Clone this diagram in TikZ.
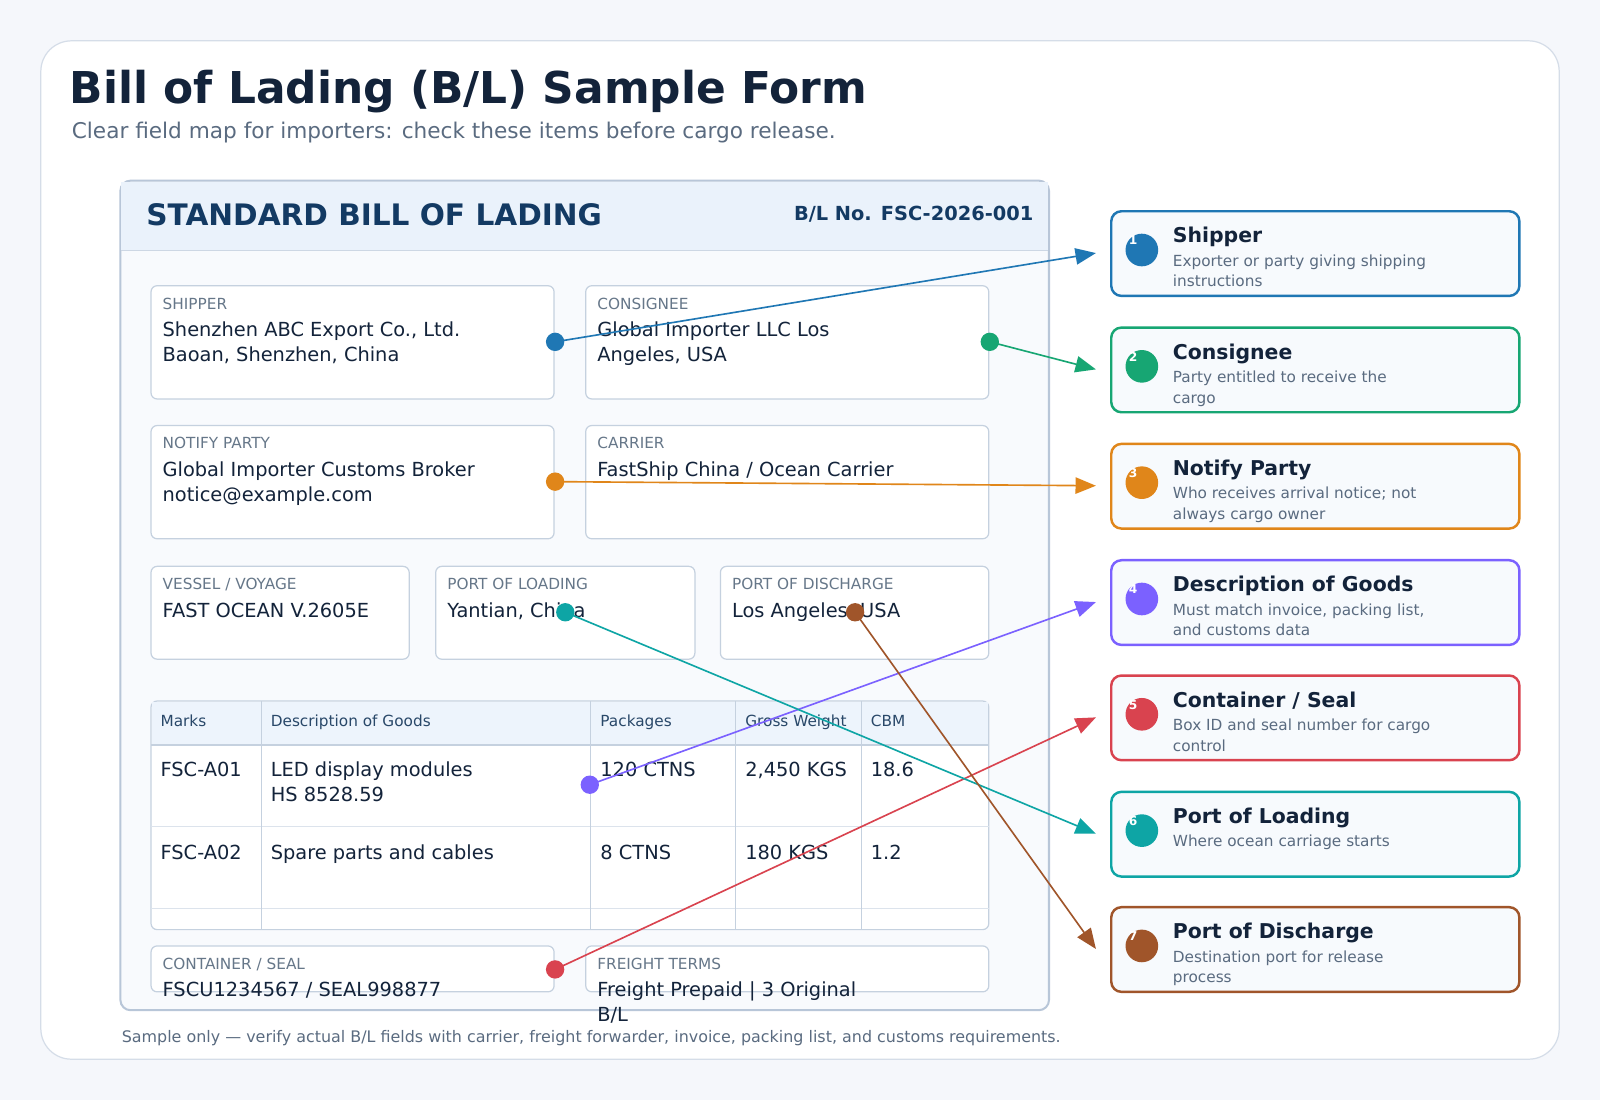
\documentclass[tikz,border=0pt]{standalone}
\usepackage{fontspec}
\setmainfont{DejaVu Sans}
\usetikzlibrary{arrows.meta}
\definecolor{bg}{HTML}{F5F7FB}
\definecolor{cardb}{HTML}{D5DDE8}
\definecolor{ink}{HTML}{13233A}
\definecolor{sub}{HTML}{5A6B80}
\definecolor{formb}{HTML}{B8C6D8}
\definecolor{formf}{HTML}{F8FAFD}
\definecolor{headf}{HTML}{EAF2FB}
\definecolor{navy}{HTML}{133A63}
\definecolor{boxb}{HTML}{C5D1DF}
\definecolor{lab}{HTML}{667789}
\definecolor{thf}{HTML}{EDF4FC}
\definecolor{cA}{HTML}{1F77B4}
\definecolor{cB}{HTML}{17A673}
\definecolor{cC}{HTML}{E0861A}
\definecolor{cD}{HTML}{7B61FF}
\definecolor{cE}{HTML}{D9434F}
\definecolor{cF}{HTML}{0EA5A5}
\definecolor{cG}{HTML}{A0552A}
\definecolor{calf}{HTML}{F7FAFD}
\tikzset{
 field/.style={draw=boxb,fill=white,rounded corners=3pt,line width=0.6pt},
 lbl/.style={anchor=base west,inner sep=0,font=\fontsize{7.5}{9}\selectfont,text=lab},
 val/.style={anchor=base west,inner sep=0,font=\fontsize{9.5}{12}\selectfont,text=ink,align=left},
 th/.style={anchor=base west,inner sep=0,font=\fontsize{7.5}{9}\selectfont,text=navy!80!gray},
 call/.style={draw=#1,line width=1.2pt,fill=calf,rounded corners=5pt},
 badge/.style={fill=#1,circle,minimum size=16pt,inner sep=0},
 num/.style={anchor=base west,inner sep=0,font=\fontsize{6}{7}\selectfont\bfseries,text=white},
 ctitle/.style={anchor=base west,inner sep=0,font=\fontsize{10}{12}\selectfont\bfseries,text=ink},
 cdesc/.style={anchor=base west,inner sep=0,font=\fontsize{7.5}{10}\selectfont,text=sub,align=left},
 dot/.style={fill=#1,circle,minimum size=9pt,inner sep=0},
 conn/.style={draw=#1,line width=0.8pt,-{Triangle[length=10pt,width=8pt]}},
}
\begin{document}
\begin{tikzpicture}[x=0.5pt,y=-0.5pt]
\fill[bg] (0,0) rectangle (1568,1078);
\useasboundingbox (0,0) rectangle (1568,1078);
\draw[cardb,fill=white,rounded corners=15pt,line width=0.6pt] (40,40) rectangle (1528,1038);
\node[anchor=base west,inner sep=0,font=\fontsize{21.5}{26}\selectfont\bfseries,text=ink] (title) at (68,101) {Bill of Lading (B/L) Sample Form};
\node[anchor=base west,inner sep=0,font=\fontsize{10.6}{12}\selectfont,text=sub] (subt) at (70,136) {Clear field map for importers: check these items before cargo release.};
% form
\draw[formb,fill=formf,rounded corners=5pt,line width=1pt] (118,177) rectangle (1028,990);
\fill[headf] (119,178) rectangle (1027,245);
\draw[formb!70,line width=0.5pt] (119,245) -- (1027,245);
\node[anchor=base west,inner sep=0,font=\fontsize{14.5}{16}\selectfont\bfseries,text=navy] (hd) at (143,221) {STANDARD BILL OF LADING};
\node[anchor=base east,inner sep=0,font=\fontsize{9.5}{12}\selectfont\bfseries,text=navy] (bl) at (1013,216) {B/L No. FSC-2026-001};
% fields
\draw[field] (148,280) rectangle (543,391);
\node[lbl] (l1) at (159,303) {SHIPPER};
\node[val] (v1) at (159,354) {Shenzhen ABC Export Co., Ltd.\\Baoan, Shenzhen, China};
\draw[field] (574,280) rectangle (969,391);
\node[lbl] (l2) at (585,303) {CONSIGNEE};
\node[val] (v2) at (585,354) {Global Importer LLC Los\\Angeles, USA};
\draw[field] (148,417) rectangle (543,528);
\node[lbl] (l3) at (159,440) {NOTIFY PARTY};
\node[val] (v3) at (159,491) {Global Importer Customs Broker\\notice@example.com};
\draw[field] (574,417) rectangle (969,528);
\node[lbl] (l4) at (585,440) {CARRIER};
\node[val] (v4) at (585,467) {FastShip China / Ocean Carrier};
\draw[field] (148,555) rectangle (401,646);
\node[lbl] (l5) at (159,578) {VESSEL / VOYAGE};
\node[val] (v5) at (159,605) {FAST OCEAN V.2605E};
\draw[field] (427,555) rectangle (681,646);
\node[lbl] (l6) at (438,578) {PORT OF LOADING};
\node[val] (v6) at (438,605) {Yantian, China};
\draw[field] (706,555) rectangle (969,646);
\node[lbl] (l7) at (717,578) {PORT OF DISCHARGE};
\node[val] (v7) at (717,605) {Los Angeles, USA};
% table
\draw[field] (148,687) rectangle (969,911);
\fill[thf] (148.5,687.5) rectangle (968.5,730);
\draw[boxb,line width=0.6pt] (148,730) -- (969,730);
\draw[boxb!60,line width=0.5pt] (148,810) -- (969,810) (148,890) -- (969,890);
\foreach \x in {256,579,721,844} \draw[boxb,line width=0.6pt] (\x,687) -- (\x,911);
\node[th] (t1) at (157,712) {Marks};
\node[th] (t2) at (265,712) {Description of Goods};
\node[th] (t3) at (588,712) {Packages};
\node[th] (t4) at (730,712) {Gross Weight};
\node[th] (t5) at (853,712) {CBM};
\node[val] (r11) at (157,761) {FSC-A01};
\node[val] (r12) at (265,785) {LED display modules\\HS 8528.59};
\node[val] (r13) at (588,761) {120 CTNS};
\node[val] (r14) at (730,761) {2,450 KGS};
\node[val] (r15) at (853,761) {18.6};
\node[val] (r21) at (157,842) {FSC-A02};
\node[val] (r22) at (265,842) {Spare parts and cables};
\node[val] (r23) at (588,842) {8 CTNS};
\node[val] (r24) at (730,842) {180 KGS};
\node[val] (r25) at (853,842) {1.2};
\draw[field] (148,927) rectangle (543,972);
\node[lbl] (l8) at (159,950) {CONTAINER / SEAL};
\node[val] (v8) at (159,977) {FSCU1234567 / SEAL998877};
\draw[field] (574,927) rectangle (969,972);
\node[lbl] (l9) at (585,950) {FREIGHT TERMS};
\node[val] (v9) at (585,1001) {Freight Prepaid | 3 Original\\B/L};
\node[anchor=base west,inner sep=0,font=\fontsize{7.8}{9}\selectfont,text=sub] (foot) at (119,1022) {Sample only — verify actual B/L fields with carrier, freight forwarder, invoice, packing list, and customs requirements.};
% callouts
\foreach \i/\t/\c/\ti/\de/\dy in {
 1/207/cA/{Shipper}/{Exporter or party giving shipping\\instructions}/74,
 2/321/cB/{Consignee}/{Party entitled to receive the\\cargo}/74,
 3/435/cC/{Notify Party}/{Who receives arrival notice; not\\always cargo owner}/74,
 4/549/cD/{Description of Goods}/{Must match invoice, packing list,\\and customs data}/74,
 5/662/cE/{Container / Seal}/{Box ID and seal number for cargo\\control}/74,
 6/776/cF/{Port of Loading}/{Where ocean carriage starts}/54,
 7/889/cG/{Port of Discharge}/{Destination port for release\\process}/74}{
 \draw[call=\c] (1089,\t) rectangle (1489,\t+83);
 \node[badge=\c] (b\i) at (1119,\t+38) {};
 \node[num] (n\i) at (1106,\t+33) {\i};
 \node[ctitle] (ct\i) at (1149,\t+31) {\ti};
 \node[cdesc] (cd\i) at (1149,\t+\dy) {\de};
 \coordinate (a\i) at (1074,\t+41);
}
% dots and connectors
\node[dot=cA] (d1) at (544,335) {};
\node[dot=cB] (d2) at (970,335) {};
\node[dot=cC] (d3) at (544,472) {};
\node[dot=cD] (d4) at (578,769) {};
\node[dot=cE] (d5) at (544,950) {};
\node[dot=cF] (d6) at (554,600) {};
\node[dot=cG] (d7) at (838,600) {};
\draw[conn=cA] (d1.center) -- (a1);
\draw[conn=cB] (d2.center) -- (a2);
\draw[conn=cC] (d3.center) -- (a3);
\draw[conn=cD] (d4.center) -- (a4);
\draw[conn=cE] (d5.center) -- (a5);
\draw[conn=cF] (d6.center) -- (a6);
\draw[conn=cG] (d7.center) -- (a7);
\end{tikzpicture}
\end{document}
